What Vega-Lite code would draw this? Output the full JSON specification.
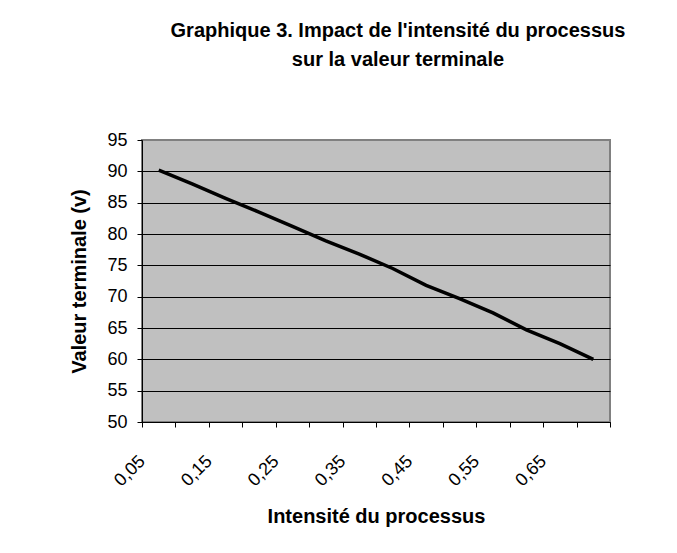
{
  "$schema": "https://vega.github.io/schema/vega-lite/v6.json",
  "width": 468,
  "height": 282,
  "autosize": {"type": "none"},
  "padding": {"left": 142, "top": 140, "right": 67, "bottom": 131},
  "background": "white",
  "title": {
    "text": ["Graphique 3. Impact de l'intensité du processus", "sur la valeur terminale"],
    "font": "Liberation Sans",
    "fontSize": 20,
    "fontWeight": "bold",
    "color": "black",
    "anchor": "middle",
    "dx": 22,
    "offset": 61,
    "lineHeight": 29
  },
  "config": {
    "font": "Liberation Sans",
    "view": {"fill": "#C0C0C0", "stroke": "#808080", "strokeWidth": 2}
  },
  "data": {
    "values": [
      {"x": 0.05, "y": 90.2},
      {"x": 0.10, "y": 88.0},
      {"x": 0.15, "y": 85.7},
      {"x": 0.20, "y": 83.5},
      {"x": 0.25, "y": 81.2},
      {"x": 0.30, "y": 78.9},
      {"x": 0.35, "y": 76.8},
      {"x": 0.40, "y": 74.5},
      {"x": 0.45, "y": 71.8},
      {"x": 0.50, "y": 69.7},
      {"x": 0.55, "y": 67.4},
      {"x": 0.60, "y": 64.7},
      {"x": 0.65, "y": 62.5},
      {"x": 0.70, "y": 60.0}
    ]
  },
  "encoding": {
    "y": {
      "field": "y",
      "type": "quantitative",
      "scale": {"domain": [50, 95], "nice": false, "zero": false},
      "axis": {
        "values": [50, 55, 60, 65, 70, 75, 80, 85, 90, 95],
        "labelOverlap": false,
        "grid": true,
        "gridColor": {"condition": {"test": "datum.value == 95", "value": "#808080"}, "value": "black"},
        "gridWidth": 1,
        "gridOpacity": 1,
        "tickSize": 5,
        "tickColor": "black",
        "domainColor": "black",
        "labelFont": "Liberation Sans",
        "labelFontSize": 18,
        "labelColor": "black",
        "labelPadding": 10,
        "title": "Valeur terminale (v)",
        "titleFont": "Liberation Sans",
        "titleFontSize": 20,
        "titleFontWeight": "bold",
        "titleColor": "black",
        "titlePadding": 17
      }
    }
  },
  "layer": [
    {
      "mark": {"type": "line", "color": "black", "strokeWidth": 3.5},
      "encoding": {
        "x": {
          "field": "x",
          "type": "quantitative",
          "scale": {"domain": [0.025, 0.725], "nice": false, "zero": false},
          "axis": {
            "orient": "bottom",
            "values": [0.025, 0.075, 0.125, 0.175, 0.225, 0.275, 0.325, 0.375, 0.425, 0.475, 0.525, 0.575, 0.625, 0.675, 0.725],
            "labels": false,
            "grid": false,
            "ticks": true,
            "tickSize": 5,
            "tickColor": "black",
            "domainColor": "black",
            "title": "Intensité du processus",
            "titleFont": "Liberation Sans",
            "titleFontSize": 20,
            "titleFontWeight": "bold",
            "titleColor": "black",
            "titlePadding": 79
          }
        }
      }
    },
    {
      "mark": {"type": "line", "opacity": 0},
      "encoding": {
        "x": {
          "field": "x",
          "type": "quantitative",
          "axis": {
            "orient": "bottom",
            "values": [0.05, 0.15, 0.25, 0.35, 0.45, 0.55, 0.65],
            "labelOverlap": false,
            "ticks": false,
            "domain": false,
            "grid": false,
            "labelAngle": -45,
            "labelAlign": "right",
            "labelBaseline": "top",
            "labelOffset": -23,
            "labelPadding": 30,
            "labelFont": "Liberation Sans",
            "labelFontSize": 18,
            "labelColor": "black",
            "labelExpr": "replace(format(datum.value, '.2f'), '.', ',')",
            "title": null
          }
        }
      }
    }
  ],
  "resolve": {"axis": {"x": "independent"}}
}
